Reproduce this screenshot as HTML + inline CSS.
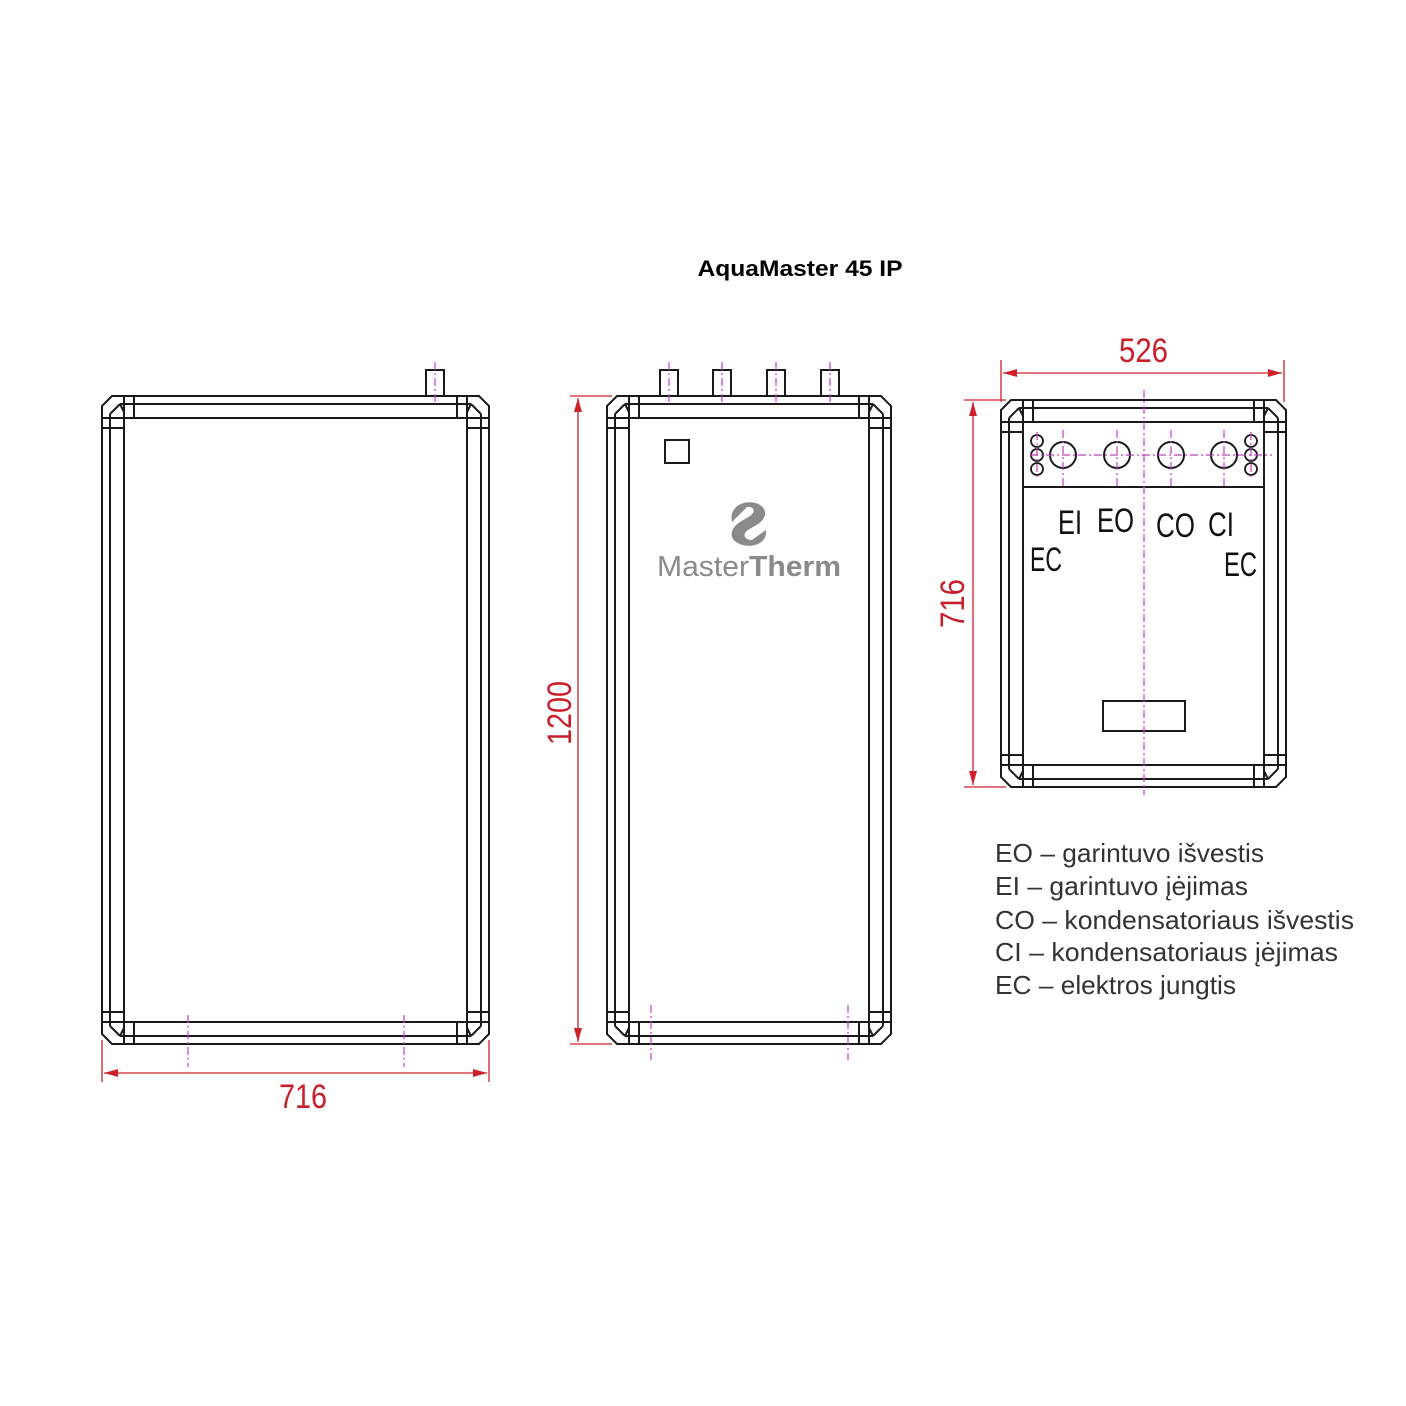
<!DOCTYPE html>
<html><head><meta charset="utf-8"><style>
html,body{margin:0;padding:0;background:#fff;}
svg{display:block}
</style></head><body>
<svg id="s" width="1406" height="1406" viewBox="0 0 1406 1406" xmlns="http://www.w3.org/2000/svg" font-family="Liberation Sans, sans-serif">
<rect width="1406" height="1406" fill="#fff"/>
<text x="800" y="276" text-anchor="middle" font-weight="bold" font-size="22" fill="#000" textLength="205" lengthAdjust="spacingAndGlyphs">AquaMaster 45 IP</text>
<g id="frames" fill="none" stroke="#1a1a1a" stroke-width="2"></g>
<g id="extra" fill="none" stroke="#1a1a1a" stroke-width="2">
  <rect x="426" y="370" width="18" height="26" fill="#fff"/>
  <rect x="660" y="370" width="18" height="26" fill="#fff"/>
  <rect x="713" y="370" width="18" height="26" fill="#fff"/>
  <rect x="767" y="370" width="18" height="26" fill="#fff"/>
  <rect x="821" y="370" width="18" height="26" fill="#fff"/>
  <rect x="665" y="440" width="24" height="23"/>
  <line x1="1023" y1="487" x2="1265" y2="487"/>
  <circle cx="1063" cy="455" r="13"/>
  <circle cx="1117" cy="455" r="13"/>
  <circle cx="1171" cy="455" r="13"/>
  <circle cx="1224" cy="455" r="13"/>
  <g stroke-width="1.8">
  <circle cx="1037" cy="441" r="6"/><circle cx="1037" cy="455" r="6"/><circle cx="1037" cy="469" r="6"/>
  <circle cx="1251" cy="441" r="6"/><circle cx="1251" cy="455" r="6"/><circle cx="1251" cy="469" r="6"/>
  </g>
  <rect x="1103" y="701" width="82" height="30"/>
</g>
<g fill="none" stroke="#c040c0" stroke-width="1.2" stroke-dasharray="8,3,2,3">
  <line x1="435" y1="362" x2="435" y2="402"/>
  <line x1="669" y1="362" x2="669" y2="402"/>
  <line x1="722" y1="362" x2="722" y2="402"/>
  <line x1="776" y1="362" x2="776" y2="402"/>
  <line x1="830" y1="362" x2="830" y2="402"/>
  <line x1="188" y1="1015" x2="188" y2="1067"/>
  <line x1="404" y1="1015" x2="404" y2="1067"/>
  <line x1="651" y1="1005" x2="651" y2="1060"/>
  <line x1="848" y1="1005" x2="848" y2="1060"/>
  <line x1="1144" y1="390" x2="1144" y2="795"/>
  <line x1="1030" y1="455" x2="1272" y2="455"/>
  <line x1="1063" y1="430" x2="1063" y2="487"/>
  <line x1="1117" y1="430" x2="1117" y2="487"/>
  <line x1="1171" y1="430" x2="1171" y2="487"/>
  <line x1="1224" y1="430" x2="1224" y2="487"/>
  <line x1="1037" y1="432" x2="1037" y2="478"/>
  <line x1="1251" y1="432" x2="1251" y2="478"/>
</g>
<g stroke="#d0202a" stroke-width="1.3" fill="#d0202a">
  <line x1="102" y1="1040" x2="102" y2="1082"/>
  <line x1="489" y1="1040" x2="489" y2="1082"/>
  <line x1="104" y1="1073" x2="487" y2="1073"/>
  <polygon points="104,1073 118,1069 118,1077" stroke="none"/>
  <polygon points="487,1073 473,1069 473,1077" stroke="none"/>
  <line x1="570" y1="396" x2="612" y2="396"/>
  <line x1="570" y1="1044" x2="612" y2="1044"/>
  <line x1="578" y1="398" x2="578" y2="1042"/>
  <polygon points="578,398 574,412 582,412" stroke="none"/>
  <polygon points="578,1042 574,1028 582,1028" stroke="none"/>
  <line x1="1001" y1="360" x2="1001" y2="402"/>
  <line x1="1284" y1="360" x2="1284" y2="402"/>
  <line x1="1003" y1="373" x2="1282" y2="373"/>
  <polygon points="1003,373 1017,369 1017,377" stroke="none"/>
  <polygon points="1282,373 1268,369 1268,377" stroke="none"/>
  <line x1="964" y1="400" x2="1006" y2="400"/>
  <line x1="964" y1="787" x2="1006" y2="787"/>
  <line x1="973" y1="402" x2="973" y2="785"/>
  <polygon points="973,402 969,416 977,416" stroke="none"/>
  <polygon points="973,785 969,771 977,771" stroke="none"/>
</g>
<g fill="#c8202a" font-size="34">
  <text x="279" y="1108" textLength="48" lengthAdjust="spacingAndGlyphs">716</text>
  <text x="1119" y="362" textLength="49" lengthAdjust="spacingAndGlyphs">526</text>
  <text transform="translate(571,745) rotate(-90)" textLength="64" lengthAdjust="spacingAndGlyphs">1200</text>
  <text transform="translate(964,628) rotate(-90)" textLength="49" lengthAdjust="spacingAndGlyphs">716</text>
</g>
<g fill="#111" font-size="34">
  <text x="1058" y="534" textLength="24" lengthAdjust="spacingAndGlyphs">EI</text>
  <text x="1097" y="532" textLength="37" lengthAdjust="spacingAndGlyphs">EO</text>
  <text x="1156" y="537" textLength="39" lengthAdjust="spacingAndGlyphs">CO</text>
  <text x="1208" y="536" textLength="26" lengthAdjust="spacingAndGlyphs">CI</text>
  <text x="1030" y="571" textLength="32" lengthAdjust="spacingAndGlyphs">EC</text>
  <text x="1224" y="576" textLength="33" lengthAdjust="spacingAndGlyphs">EC</text>
</g>
<g fill="#8a8a8a">
  <path d="M732,522 C728,505 748,498 760,505 C768,510 766,519 758,524 L748,530 C742,534 744,540 752,540 L766,530 C768,545 748,550 736,542 C728,536 732,527 740,522 L750,516 C756,512 754,506 747,507 Z"/>
  <text x="657" y="576" font-size="29" textLength="184" lengthAdjust="spacingAndGlyphs"><tspan>Master</tspan><tspan font-weight="bold">Therm</tspan></text>
</g>
<g fill="#333" font-size="26">
  <text x="995" y="862" textLength="269" lengthAdjust="spacingAndGlyphs">EO – garintuvo išvestis</text>
  <text x="995" y="895" textLength="253" lengthAdjust="spacingAndGlyphs">EI – garintuvo įėjimas</text>
  <text x="995" y="929" textLength="359" lengthAdjust="spacingAndGlyphs">CO – kondensatoriaus išvestis</text>
  <text x="995" y="961" textLength="343" lengthAdjust="spacingAndGlyphs">CI – kondensatoriaus įėjimas</text>
  <text x="995" y="994" textLength="241" lengthAdjust="spacingAndGlyphs">EC – elektros jungtis</text>
</g>
</svg>
<script>
(function(){
var g=document.getElementById('frames');var ns='http://www.w3.org/2000/svg';
function el(t,a){var e=document.createElementNS(ns,t);for(var k in a)e.setAttribute(k,a[k]);g.appendChild(e);}
function poly(x1,y1,x2,y2,c){el('polygon',{points:[x1+c,y1,x2-c,y1,x2,y1+c,x2,y2-c,x2-c,y2,x1+c,y2,x1,y2-c,x1,y1+c].join(' ')});}
function L(a,b,c,d){el('line',{x1:a,y1:b,x2:c,y2:d});}
function frame(x1,y1,x2,y2){
  poly(x1,y1,x2,y2,10);
  var a=8,b=22,c=32;
  el('rect',{x:x1+b,y:y1+b,width:x2-x1-2*b,height:y2-y1-2*b});
  L(x1+c,y1+a,x2-c,y1+a); L(x1+c,y2-a,x2-c,y2-a);
  L(x1+a,y1+c,x1+a,y2-c); L(x2-a,y1+c,x2-a,y2-c);
  [[x1,y1,1,1],[x2,y1,-1,1],[x1,y2,1,-1],[x2,y2,-1,-1]].forEach(function(p){
    var X=p[0],Y=p[1],sx=p[2],sy=p[3];
    L(X+sx*b,Y,X+sx*b,Y+sy*b); L(X+sx*c,Y,X+sx*c,Y+sy*b);
    L(X,Y+sy*b,X+sx*b,Y+sy*b); L(X,Y+sy*c,X+sx*b,Y+sy*c);
    L(X+sx*a,Y+sy*(a+10),X+sx*(a+10),Y+sy*a);
    L(X+sx*(a+10),Y+sy*a,X+sx*c,Y+sy*a);
    L(X+sx*a,Y+sy*(a+10),X+sx*a,Y+sy*c);
    L(X+sx*(a+10),Y+sy*a,X+sx*b,Y+sy*(b-6));
  });
}
frame(102,396,489,1044);
frame(607,396,891,1044);
frame(1001,400,1286,787);
})();
</script>
</body></html>
